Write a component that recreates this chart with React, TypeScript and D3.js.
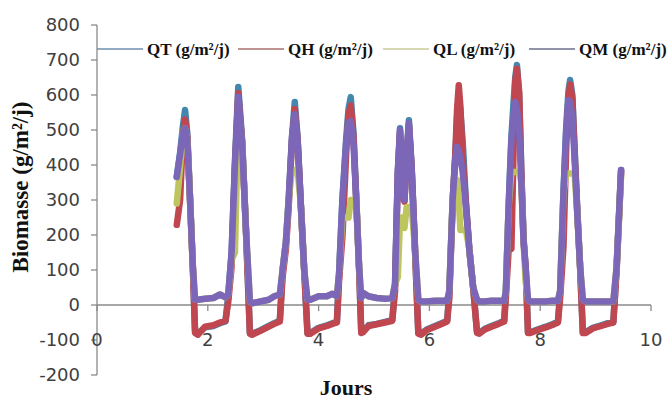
import React from "react";
import * as d3 from "d3";

// Time axis (jours) shared by all series
const jours = [
  1.44, 1.5, 1.55, 1.59, 1.63, 1.68, 1.73, 1.77,
  1.82, 1.95, 2.1, 2.22, 2.32,
  2.37, 2.43, 2.49, 2.55, 2.62, 2.69, 2.76,
  2.8, 2.95, 3.1, 3.2, 3.3,
  3.35, 3.41, 3.46, 3.52, 3.57, 3.62, 3.68, 3.74, 3.8,
  3.85, 4.0, 4.15, 4.25, 4.33,
  4.37, 4.43, 4.5, 4.54, 4.58, 4.63, 4.68, 4.73, 4.77,
  4.8, 4.9, 5.05, 5.2, 5.33,
  5.38, 5.43, 5.47, 5.51, 5.55, 5.59, 5.63, 5.68, 5.74, 5.8,
  5.85, 5.95, 6.1, 6.22, 6.32,
  6.36, 6.42, 6.47, 6.5, 6.53, 6.56, 6.6, 6.66, 6.72, 6.79, 6.86,
  6.9, 7.0, 7.12, 7.25, 7.35,
  7.38, 7.43, 7.48, 7.52, 7.55, 7.58, 7.62, 7.66, 7.7, 7.74, 7.78,
  7.82, 7.95, 8.1, 8.22, 8.32,
  8.36, 8.42, 8.47, 8.51, 8.54, 8.58, 8.62, 8.67, 8.72, 8.77,
  8.82, 8.95, 9.1, 9.22, 9.32,
  9.38, 9.46,
];

const QT = [
  366, 435, 510, 557, 490, 300, 110, -75,
  -82, -64, -60, -52, -47,
  30, 150, 410, 623, 470, 210, -80,
  -82, -72, -60, -52, -45,
  100, 180, 300, 480, 580, 480, 285, 100, -80,
  -80, -65, -58, -52, -48,
  90, 300, 480, 560, 594, 490, 300, 110, -75,
  -76, -58, -54, -48, -43,
  60, 380, 505, 320, 300, 430, 528, 390, 160, -80,
  -82, -70, -60, -52, -45,
  40, 300, 430, 540, 600, 550, 470, 290, 160, 50, -78,
  -80, -68, -60, -52, -45,
  40, 280, 480, 580, 650, 686, 600, 380, 190, 100, -78,
  -78, -70, -62, -55, -48,
  40, 320, 510, 610, 643, 600, 450, 270, 110, -78,
  -78, -65, -58, -52, -48,
  110, 386,
];

const QH = [
  229, 300, 480, 530, 480, 300, 110, -80,
  -85, -62, -58, -50, -45,
  10, 110, 390, 605, 465, 210, -82,
  -85, -74, -62, -54, -47,
  80, 160, 280, 470, 560, 475, 285, 100, -82,
  -82, -67, -60, -54, -50,
  70, 195, 440, 545, 570, 480, 300, 110, -80,
  -78, -60, -55, -50, -45,
  40, 370, 495, 315, 295, 425, 515, 390, 160, -82,
  -85, -72, -62, -54, -47,
  20, 290, 440, 560, 628, 566, 420, 290, 160, 50, -80,
  -82, -70, -62, -54, -47,
  20, 157, 160, 450, 640, 675, 610, 370, 185, 100, -80,
  -80, -72, -64, -57, -50,
  20, 166, 450, 590, 630, 590, 440, 265, 110, -80,
  -80, -67, -60, -54, -50,
  100, 380,
];

const QL = [
  290, 394, 490, 505, 470, 300, 110, 15,
  15, 18, 20, 30, 22,
  30, 130, 150, 560, 460, 210, 10,
  5, 10, 15, 25, 30,
  100, 180, 300, 386, 386, 386, 285, 100, 15,
  15, 25, 25, 32, 25,
  90, 250, 250, 250, 300, 300, 300, 110, 20,
  35, 25, 20, 18, 20,
  60, 80, 250, 250, 220, 280, 280, 280, 160, 15,
  10, 10, 12, 12, 12,
  40, 300, 357, 357, 300, 214, 214, 214, 160, 50, 15,
  10, 10, 12, 12, 12,
  40, 280, 380, 380, 380, 380, 380, 350, 180, 63, 15,
  10, 10, 10, 12, 12,
  40, 320, 376, 376, 376, 376, 376, 260, 110, 15,
  10, 10, 10, 10, 10,
  110, 370,
];

const QM = [
  366, 430, 490, 505, 470, 300, 110, 15,
  15, 18, 20, 30, 22,
  30, 150, 400, 595, 460, 210, 10,
  5, 10, 15, 25, 30,
  100, 180, 300, 480, 545, 470, 285, 100, 15,
  15, 25, 25, 32, 25,
  90, 300, 470, 520, 525, 460, 300, 110, 20,
  35, 25, 20, 18, 20,
  60, 380, 500, 320, 300, 430, 520, 390, 160, 15,
  10, 10, 12, 12, 12,
  40, 300, 420, 452, 440, 420, 380, 280, 160, 50, 15,
  10, 10, 12, 12, 12,
  40, 280, 470, 540, 580, 560, 500, 350, 180, 100, 15,
  10, 10, 10, 12, 12,
  40, 320, 500, 585, 580, 540, 420, 260, 110, 15,
  10, 10, 10, 10, 10,
  110, 386,
];

const seriesNames = ["QT (g/m²/j)", "QH (g/m²/j)", "QL (g/m²/j)", "QM (g/m²/j)"];
const seriesValues = [QT, QH, QL, QM];
const seriesColors = ["#4387AE", "#C0464F", "#BEC55E", "#7B66B8"];
const legendColors = ["#6F8FAE", "#A9706E", "#C9CB98", "#6E6E8C"];
const yTicks = [-200, -100, 0, 100, 200, 300, 400, 500, 600, 700, 800];
const xTicks = [0, 2, 4, 6, 8, 10];

const legendX = [97, 238, 383, 529];

export default function App() {
  const W = 668;
  const H = 400;
  const x = d3.scaleLinear().domain([0, 10]).range([97, 651]);
  const y = d3.scaleLinear().domain([-200, 800]).range([375, 25]);
  const line = d3
    .line<number>()
    .x((_, i) => x(jours[i]))
    .y((d) => y(d));

  const axisColor = "#8A8A8A";
  const tickFont = "'DejaVu Sans', Verdana, sans-serif";
  const serif = "'Liberation Serif', 'Times New Roman', serif";

  return (
    <svg
      width={W}
      height={H}
      style={{ position: "absolute", left: 0, top: 0, background: "#fff" }}
    >
      <rect x={0} y={0} width={W} height={H} fill="#fff" />
      {/* Y axis */}
      <line x1={x(0)} x2={x(0)} y1={y(800)} y2={y(-200)} stroke={axisColor} strokeWidth={1.3} />
      {yTicks.map((t) => (
        <g key={"yt" + t}>
          <line x1={x(0) - 6} x2={x(0)} y1={y(t)} y2={y(t)} stroke={axisColor} strokeWidth={1.3} />
          <text
            x={80}
            y={y(t)}
            dy="0.36em"
            textAnchor="end"
            fontFamily={tickFont}
            fontSize={18}
            fill="#404040"
          >
            {t}
          </text>
        </g>
      ))}
      {/* X axis at 0 */}
      <line x1={x(0)} x2={x(10)} y1={y(0)} y2={y(0)} stroke={axisColor} strokeWidth={1.3} />
      {xTicks.map((t) => (
        <g key={"xt" + t}>
          <line x1={x(t)} x2={x(t)} y1={y(0)} y2={y(0) + 6} stroke={axisColor} strokeWidth={1.3} />
          <text
            x={x(t)}
            y={y(-100)}
            dy="0.36em"
            textAnchor="middle"
            fontFamily={tickFont}
            fontSize={18}
            fill="#404040"
          >
            {t}
          </text>
        </g>
      ))}

      {/* Series */}
      {seriesValues.map((vals, si) => (
        <path
          key={"s" + si}
          d={line(vals) || ""}
          fill="none"
          stroke={seriesColors[si]}
          strokeWidth={6.5}
          strokeLinejoin="round"
          strokeLinecap="round"
        />
      ))}

      {/* Legend */}
      {seriesNames.map((name, i) => (
        <g key={"lg" + i}>
          <line
            x1={legendX[i]}
            x2={legendX[i] + 46}
            y1={49}
            y2={49}
            stroke={legendColors[i]}
            strokeWidth={1.6}
          />
          <text
            x={legendX[i] + 50}
            y={54.5}
            fontFamily={serif}
            fontWeight="bold"
            fontSize={17}
            fill="#111"
          >
            {name}
          </text>
        </g>
      ))}

      {/* Axis titles */}
      <text
        transform={`translate(28, 187) rotate(-90)`}
        textAnchor="middle"
        fontFamily={serif}
        fontWeight="bold"
        fontSize={23}
        fill="#111"
      >
        Biomasse (g/m²/j)
      </text>
      <text
        x={346}
        y={395}
        textAnchor="middle"
        fontFamily={serif}
        fontWeight="bold"
        fontSize={22}
        fill="#111"
      >
        Jours
      </text>
    </svg>
  );
}
